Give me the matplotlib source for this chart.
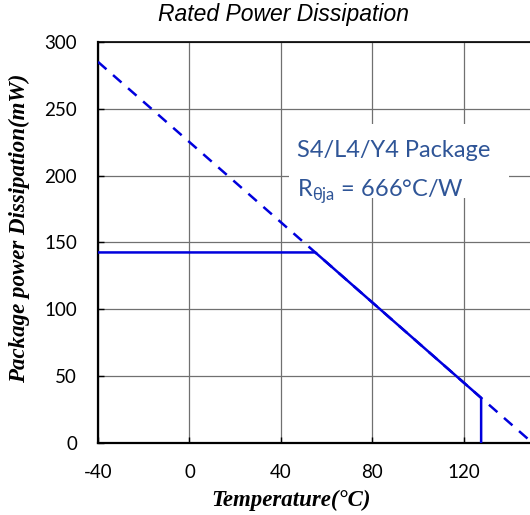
import matplotlib
matplotlib.use("Agg")
import matplotlib.pyplot as plt
from matplotlib.patches import Rectangle

plt.rcParams["axes.unicode_minus"] = False

# derating curve data (temperature in C, power in mW)
derate_temp = [-40, 150]
derate_power = [285, 0]

rated_temp = [-40, 55, 127.5, 127.5]
rated_power = [142.5, 142.5, 33.75, 0]

x_ticks = [-40, 0, 40, 80, 120]
y_ticks = [0, 50, 100, 150, 200, 250, 300]

blue = "#0000DD"
txt_blue = "#2F5597"

fig = plt.figure(figsize=(5.3, 5.15), dpi=100)
ax = fig.add_axes([0.1849, 0.1398, 0.82, 0.779])

# dashed derating line and the actual rated curve
ax.plot(derate_temp, derate_power, color=blue, lw=1.8, dashes=(4.5, 3.5), zorder=3)
ax.plot(rated_temp, rated_power, color=blue, lw=1.8, zorder=3)

ax.set_xlim(-40, 150)
ax.set_ylim(0, 300)
ax.set_xticks(x_ticks)
ax.set_yticks(y_ticks)
ax.grid(True, color="#707070", lw=0.9)
ax.set_axisbelow(True)

for lab in ax.get_xticklabels() + ax.get_yticklabels():
    lab.set_family("Lato")
    lab.set_fontsize(13.5)
ax.tick_params(direction="in", length=4, width=1, pad=15)

ax.spines["left"].set_linewidth(1.6)
ax.spines["bottom"].set_linewidth(1.6)
ax.spines["top"].set_linewidth(1.2)
ax.spines["right"].set_visible(False)

# white box behind the annotation
ax.add_patch(Rectangle((43.5, 183), 96, 55.6, facecolor="white", edgecolor="none", zorder=1.5))
ax.text(47, 214, "S4/L4/Y4 Package", family="Lato", fontsize=17, color=txt_blue, zorder=2)
ax.text(47, 184, r"R$_{\mathregular{\theta ja}}$ = 666°C/W", family="Lato", fontsize=17,
        color=txt_blue, zorder=2)

fig.text(283 / 530, 1 - 15 / 515, "Rated Power Dissipation", family="Liberation Sans",
         style="italic", fontsize=16.5, ha="center", va="center")
fig.text(291 / 530, 1 - 500 / 515, "Temperature(°C)", family="Liberation Serif",
         style="italic", weight="bold", fontsize=16.5, ha="center", va="center")
fig.text(19 / 530, 1 - 228 / 515, "Package power Dissipation(mW)", family="Liberation Serif",
         style="italic", weight="bold", fontsize=16.5, ha="center", va="center", rotation=90)

fig.savefig("out.png", dpi=100)
